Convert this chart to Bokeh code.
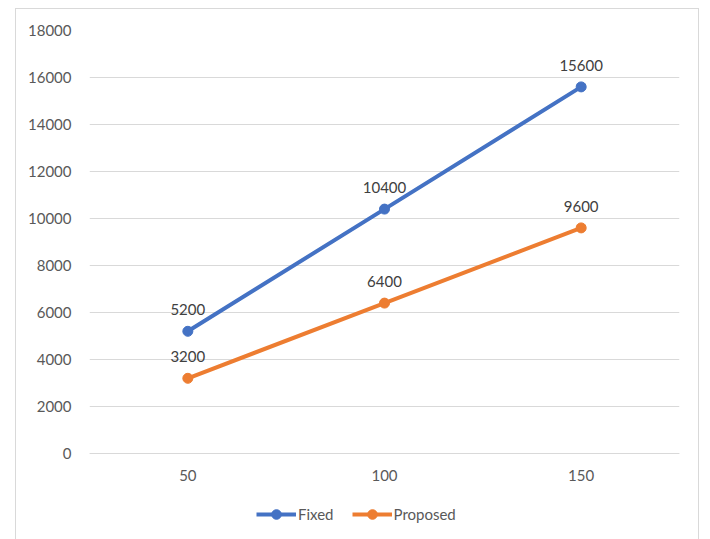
from bokeh.plotting import figure
from bokeh.models import (ColumnDataSource, FactorRange, Range1d, LabelSet, Legend,
                          LegendItem, FixedTicker)
from bokeh.core.properties import value
from bokeh.embed import file_html
from bokeh.resources import INLINE

categories = ["50", "100", "150"]
fixed = [5200, 10400, 15600]
proposed = [3200, 6400, 9600]
series_names = ["Fixed", "Proposed"]
colors = ["#4472C4", "#ED7D31"]
y_ticks = [0, 2000, 4000, 6000, 8000, 10000, 12000, 14000, 16000, 18000]

FONT = "Lato"
# frame spans page y 29..539; value 0 sits at page y 452, 18000 at 29
p = figure(x_range=FactorRange(*categories), y_range=Range1d(-3702, 18000),
           width=684, height=531, output_backend="svg", toolbar_location=None,
           min_border_left=73, min_border_right=21, min_border_top=21, min_border_bottom=0)
p.margin = (8, 0, 0, 15)
p.styles = {"border-top": "1px solid #d9d9d9", "border-left": "1px solid #d9d9d9",
            "border-right": "1px solid #d9d9d9", "box-sizing": "border-box"}
p.outline_line_color = None
p.background_fill_color = "white"
p.border_fill_color = "white"

p.xgrid.grid_line_color = None
p.yaxis.ticker = FixedTicker(ticks=y_ticks)
p.ygrid.grid_line_color = "#d9d9d9"
p.ygrid.grid_line_width = 1

for ax in (p.xaxis[0], p.yaxis[0]):
    ax.major_tick_line_color = None
    ax.minor_tick_line_color = None
    ax.major_label_text_font = FONT
    ax.major_label_text_font_size = "15px"
    ax.major_label_text_color = "#595959"
p.yaxis.axis_line_color = None
p.yaxis.major_label_standoff = 12
p.xaxis.axis_line_color = "#d9d9d9"
p.xaxis.fixed_location = 0
p.xaxis.major_label_standoff = 10

items = []
for name, vals, col in zip(series_names, [fixed, proposed], colors):
    src = ColumnDataSource(dict(x=categories, y=vals, t=[str(v) for v in vals]))
    r1 = p.line("x", "y", source=src, line_color=col, line_width=4)
    r2 = p.scatter("x", "y", source=src, size=10, fill_color=col, line_color=col)
    items.append(LegendItem(label=name, renderers=[r1, r2]))
    p.add_layout(LabelSet(x="x", y="y", text="t", source=src, y_offset=16,
                          text_align="center", text_baseline="bottom",
                          text_font=value(FONT), text_font_size=value("15px"),
                          text_color="#404040"))

legend = Legend(items=items, orientation="horizontal", location=(167, 14),
                glyph_width=40, glyph_height=24, label_standoff=2, spacing=18,
                label_text_font=FONT, label_text_font_size="15px",
                label_text_color="#595959", border_line_color=None,
                background_fill_alpha=0, padding=2, margin=0)
p.add_layout(legend)

open("out.html", "w").write(file_html(p, INLINE))
